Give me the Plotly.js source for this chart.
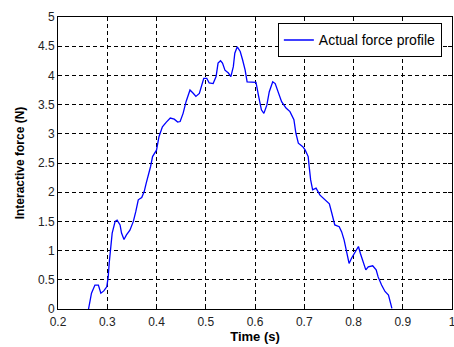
<!DOCTYPE html>
<html>
<head>
<meta charset="utf-8">
<script src="https://cdn.plot.ly/plotly-3.0.1.min.js"></script>
<style>html,body{margin:0;padding:0;background:#fff;overflow:hidden;}#chart{width:454px;height:347px;}</style>
</head>
<body>
<div id="chart"></div>
<script>
const timeS = [0.262,0.268,0.275,0.282,0.287,0.293,0.299,0.302,0.304,0.308,
0.310,0.316,0.320,0.326,0.329,0.334,0.339,0.346,0.353,0.358,
0.363,0.370,0.375,0.379,0.383,0.388,0.392,0.400,0.405,0.412,
0.420,0.428,0.436,0.443,0.448,0.454,0.460,0.468,0.475,0.480,
0.487,0.492,0.496,0.502,0.507,0.515,0.521,0.525,0.530,0.534,
0.539,0.546,0.551,0.556,0.559,0.564,0.570,0.575,0.580,0.584,
0.593,0.602,0.607,0.610,0.613,0.618,0.624,0.629,0.636,0.641,
0.647,0.654,0.663,0.671,0.679,0.683,0.688,0.697,0.702,0.708,
0.710,0.713,0.717,0.724,0.732,0.742,0.751,0.756,0.762,0.771,
0.776,0.781,0.786,0.791,0.796,0.803,0.810,0.814,0.820,0.825,
0.830,0.839,0.846,0.850,0.857,0.864,0.871,0.874,0.878];
const forceN = [0,0.27,0.41,0.41,0.27,0.31,0.38,0.55,0.79,1.07,
1.30,1.50,1.52,1.44,1.30,1.19,1.27,1.35,1.50,1.67,
1.87,1.91,2.01,2.15,2.27,2.44,2.61,2.72,2.95,3.12,
3.2,3.27,3.25,3.2,3.21,3.35,3.55,3.75,3.69,3.64,
3.69,3.84,3.95,3.95,3.87,3.86,3.98,4.21,4.25,4.21,
4.09,4.04,3.98,4.15,4.38,4.49,4.41,4.26,4.09,3.89,
3.88,3.88,3.66,3.52,3.41,3.35,3.49,3.72,3.89,3.86,
3.72,3.55,3.44,3.38,3.24,3.01,2.84,2.78,2.72,2.61,
2.44,2.21,2.04,2.07,1.95,1.87,1.80,1.64,1.44,1.41,
1.32,1.18,0.95,0.78,0.87,0.98,1.07,0.95,0.81,0.67,
0.72,0.74,0.67,0.55,0.41,0.30,0.24,0.13,0.01];
const seriesName = "Actual force profile";
const xTicks = [0.2,0.3,0.4,0.5,0.6,0.7,0.8,0.9,1];
const xTickText = ["0.2","0.3","0.4","0.5","0.6","0.7","0.8","0.9","1"];
const yTicks = [0,0.5,1,1.5,2,2.5,3,3.5,4,4.5,5];
const yTickText = ["0","0.5","1","1.5","2","2.5","3","3.5","4","4.5","5"];

const FONT = "Liberation Sans, Arial, Helvetica, sans-serif";
const axisCommon = {
  showline: true, linecolor: "#000", linewidth: 1, mirror: "ticks",
  ticks: "inside", ticklen: 4, tickcolor: "#000",
  showgrid: true, gridcolor: "#000", gridwidth: 1, griddash: "4px,3px",
  zeroline: false, ticklabeloverflow: "allow",
  tickfont: {family: FONT, size: 12, color: "#222"}
};
const layout = {
  width: 454, height: 347,
  margin: {l: 58, r: 2, t: 17, b: 38},
  paper_bgcolor: "#fff", plot_bgcolor: "#fff",
  showlegend: true,
  legend: {x: 0.558, y: 0.978, xanchor: "left", yanchor: "top",
    bordercolor: "#000", borderwidth: 1, bgcolor: "#fff",
    font: {family: FONT, size: 14, color: "#000"}},
  xaxis: Object.assign({}, axisCommon, {range: [0.2, 1], tickvals: xTicks, ticktext: xTickText,
    ticklabelstandoff: 2,
    title: {text: "<b>Time (s)</b>", font: {family: FONT, size: 13, color: "#000"}, standoff: 3}}),
  yaxis: Object.assign({}, axisCommon, {range: [0, 5], tickvals: yTicks, ticktext: yTickText,
    title: {text: "<b>Interactive force (N)</b>", font: {family: FONT, size: 12, color: "#000"}, standoff: 10}})
};
const traces = [{x: timeS, y: forceN, type: "scatter", mode: "lines", name: seriesName,
  line: {color: "#0000ff", width: 1.3}}];
Plotly.newPlot("chart", traces, layout, {displayModeBar: false, staticPlot: true});
</script>
</body>
</html>
